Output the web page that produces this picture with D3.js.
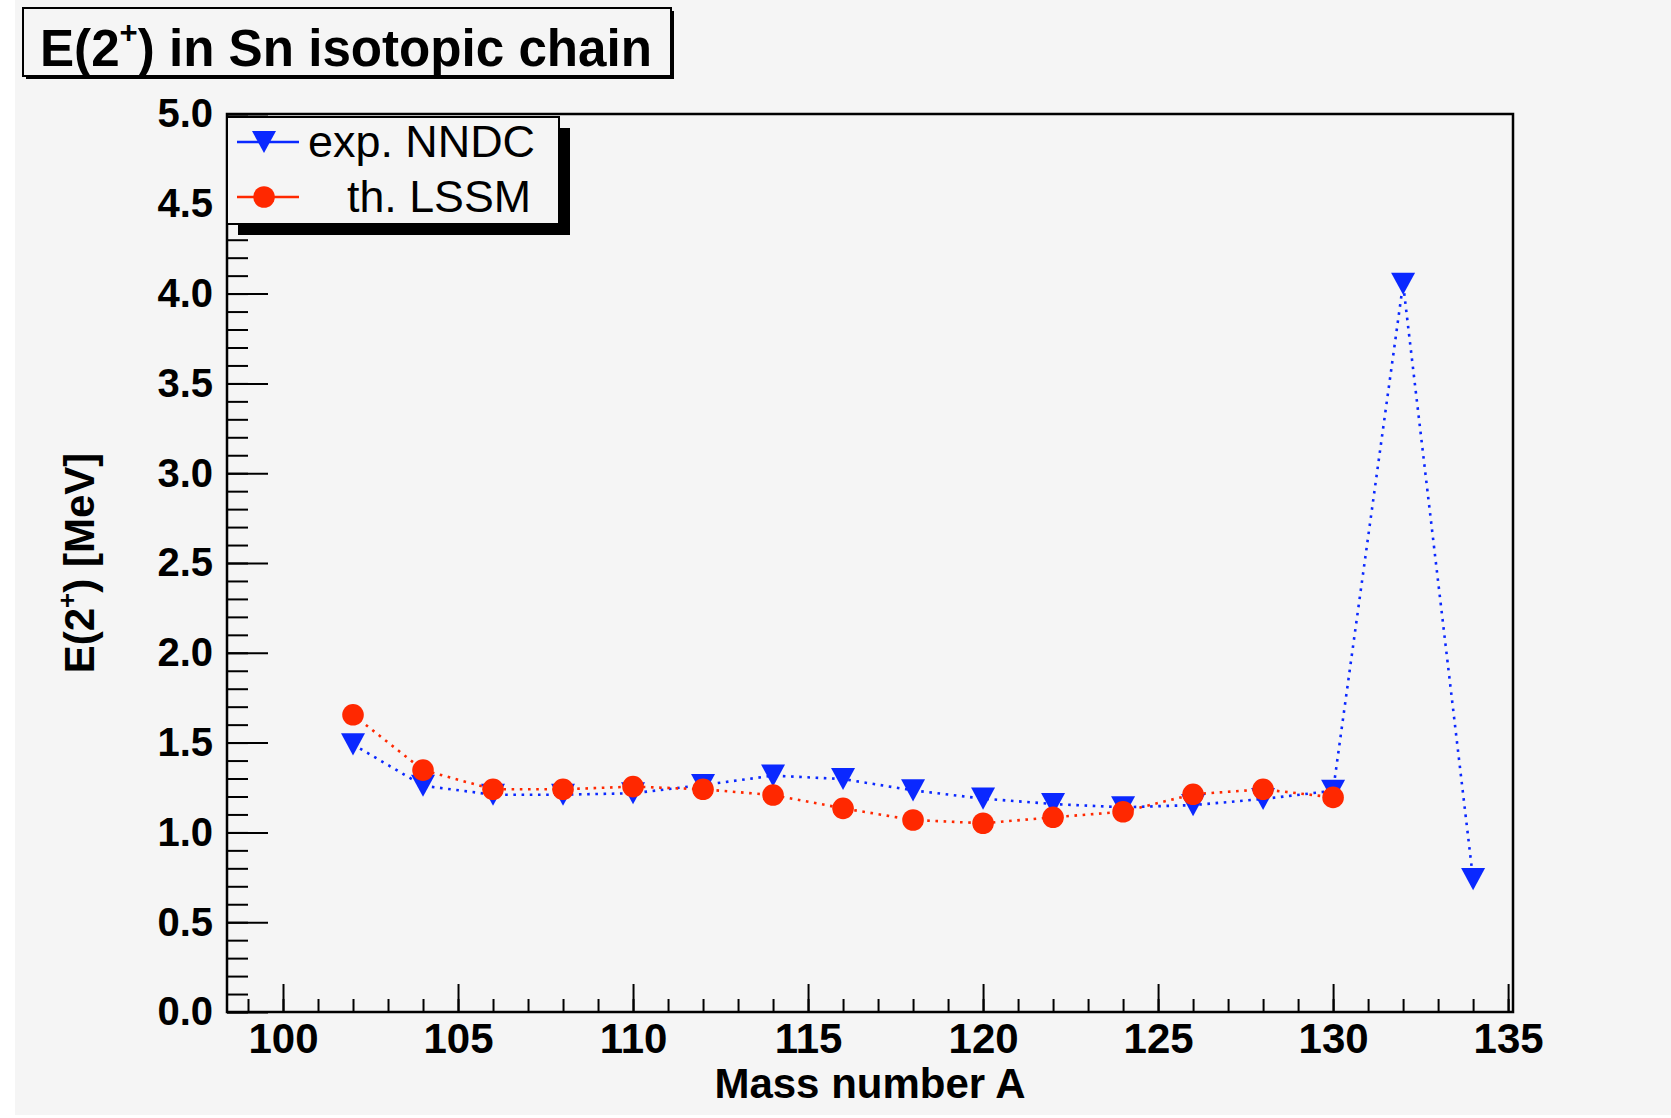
<!DOCTYPE html>
<html>
<head>
<meta charset="utf-8">
<script src="https://cdn.jsdelivr.net/npm/d3@7"></script>
<style>
  html, body { margin: 0; padding: 0; background: #ffffff; }
  svg { display: block; font-family: "Liberation Sans", Arial, Helvetica, sans-serif; }
</style>
</head>
<body>
<svg id="chart" width="1671" height="1118"></svg>
<script>
// ---- data ----
const massExp = [102, 104, 106, 108, 110, 112, 114, 116, 118, 120, 122, 124, 126, 128, 130, 132, 134];
const expNNDC = [1.49, 1.26, 1.21, 1.21, 1.218, 1.264, 1.316, 1.297, 1.234, 1.188, 1.158, 1.14, 1.152, 1.186, 1.232, 4.055, 0.74];
const massTh = [102, 104, 106, 108, 110, 112, 114, 116, 118, 120, 122, 124, 126, 128, 130];
const thLSSM = [1.655, 1.347, 1.24, 1.24, 1.255, 1.24, 1.208, 1.134, 1.069, 1.051, 1.084, 1.115, 1.212, 1.24, 1.195];
const xMajorTicks = [100, 105, 110, 115, 120, 125, 130, 135];
const yMajorTicks = [0, 0.5, 1, 1.5, 2, 2.5, 3, 3.5, 4, 4.5, 5];
const legendLabels = ["exp. NNDC", "th. LSSM"];
const xDomain = [98.4, 135.14];
const yDomain = [0, 5];

// ---- layout ----
const W = 1671, H = 1118;
const plot = { left: 227, right: 1513, top: 114, bottom: 1012 };
const BG = "#f5f5f5";
const BLUE = "#0a28ff", RED = "#ff2800";

const svg = d3.select("#chart");
svg.append("rect").attr("x", 0).attr("y", 0).attr("width", W).attr("height", H).attr("fill", "#ffffff");
svg.append("rect").attr("x", 15).attr("y", 0).attr("width", W - 15).attr("height", 1115).attr("fill", BG);

const x = d3.scaleLinear().domain(xDomain).range([plot.left, plot.right]);
const y = d3.scaleLinear().domain(yDomain).range([plot.bottom, plot.top]);

// minor ticks
const xMinor = d3.range(99, 136, 1);
const yMinor = d3.range(0, 51, 1).map(d => d / 10);

const gxMinor = svg.append("g").attr("transform", `translate(0,${plot.bottom})`)
  .call(d3.axisBottom(x).tickValues(xMinor).tickSize(-13).tickFormat(""));
const gyMinor = svg.append("g").attr("transform", `translate(${plot.left},0)`)
  .call(d3.axisLeft(y).tickValues(yMinor).tickSize(-21).tickFormat(""));

const gx = svg.append("g").attr("transform", `translate(0,${plot.bottom})`)
  .call(d3.axisBottom(x).tickValues(xMajorTicks).tickSize(-28).tickPadding(11).tickFormat(d3.format("d")));
const gy = svg.append("g").attr("transform", `translate(${plot.left},0)`)
  .call(d3.axisLeft(y).tickValues(yMajorTicks).tickSize(-41).tickPadding(14).tickFormat(d3.format(".1f")));

[gxMinor, gyMinor, gx, gy].forEach(g => {
  g.select(".domain").remove();
  g.selectAll(".tick line").attr("stroke", "#000").attr("stroke-width", 2);
});
gx.selectAll(".tick text").attr("fill", "#000").attr("font-size", 42).attr("font-weight", "bold")
  .attr("font-family", "Liberation Sans, Arial, sans-serif");
gy.selectAll(".tick text").attr("fill", "#000").attr("font-size", 40).attr("font-weight", "bold")
  .attr("font-family", "Liberation Sans, Arial, sans-serif");

// frame
svg.append("rect")
  .attr("x", plot.left).attr("y", plot.top)
  .attr("width", plot.right - plot.left).attr("height", plot.bottom - plot.top)
  .attr("fill", "none").attr("stroke", "#000").attr("stroke-width", 2.5);

// series
const lineGen = d3.line().x(d => x(d[0])).y(d => y(d[1]));
const expPts = massExp.map((m, i) => [m, expNNDC[i]]);
const thPts = massTh.map((m, i) => [m, thLSSM[i]]);

const triDown = {
  draw(ctx, size) {
    const w = Math.sqrt(size);
    const h = w * 0.92;
    ctx.moveTo(-w / 2, -h / 2);
    ctx.lineTo(w / 2, -h / 2);
    ctx.lineTo(0, h / 2);
    ctx.closePath();
  }
};
const triSym = d3.symbol().type(triDown).size(24 * 24);
const circSym = d3.symbol().type(d3.symbolCircle).size(Math.PI * 10.8 * 10.8);

svg.append("path").datum(expPts).attr("d", lineGen)
  .attr("fill", "none").attr("stroke", BLUE).attr("stroke-width", 2.6).attr("stroke-dasharray", "2.6 5.6");
svg.append("path").datum(thPts).attr("d", lineGen)
  .attr("fill", "none").attr("stroke", RED).attr("stroke-width", 2.6).attr("stroke-dasharray", "2.6 5.6");

svg.append("g").selectAll("path").data(expPts).join("path")
  .attr("d", triSym).attr("fill", BLUE)
  .attr("transform", d => `translate(${x(d[0])},${y(d[1])})`);
svg.append("g").selectAll("path").data(thPts).join("path")
  .attr("d", circSym).attr("fill", RED)
  .attr("transform", d => `translate(${x(d[0])},${y(d[1])})`);

// axis titles
svg.append("text")
  .attr("x", (plot.left + plot.right) / 2).attr("y", 1098)
  .attr("text-anchor", "middle").attr("font-size", 42).attr("font-weight", "bold")
  .text("Mass number A");

const yt = svg.append("text")
  .attr("transform", `translate(94,${(plot.top + plot.bottom) / 2}) rotate(-90)`)
  .attr("text-anchor", "middle").attr("font-size", 42).attr("font-weight", "bold");
yt.append("tspan").text("E(2");
yt.append("tspan").attr("dy", -18).attr("font-size", 26).text("+");
yt.append("tspan").attr("dy", 18).text(") [MeV]");

// title box
svg.append("rect").attr("x", 26).attr("y", 11).attr("width", 648).attr("height", 68).attr("fill", "#000");
svg.append("rect").attr("x", 23).attr("y", 8).attr("width", 648).attr("height", 68)
  .attr("fill", BG).attr("stroke", "#000").attr("stroke-width", 2);
const tt = svg.append("text").attr("x", 40).attr("y", 66).attr("font-size", 51).attr("font-weight", "bold")
  .attr("textLength", 612).attr("lengthAdjust", "spacingAndGlyphs");
tt.append("tspan").text("E(2");
tt.append("tspan").attr("dy", -23).attr("font-size", 31).text("+");
tt.append("tspan").attr("dy", 23).text(") in Sn isotopic chain");

// legend
const leg = { x: 227, y: 117, w: 332, h: 107 };
svg.append("rect").attr("x", leg.x + 11).attr("y", leg.y + 11).attr("width", leg.w).attr("height", leg.h).attr("fill", "#000");
svg.append("rect").attr("x", leg.x).attr("y", leg.y).attr("width", leg.w).attr("height", leg.h)
  .attr("fill", BG).attr("stroke", "#000").attr("stroke-width", 2);
const rows = [
  { label: legendLabels[0], color: BLUE, sym: triSym, cy: 142, tx: 308, tl: 227 },
  { label: legendLabels[1], color: RED, sym: circSym, cy: 197, tx: 347, tl: 184 }
];
rows.forEach(r => {
  svg.append("line").attr("x1", 237).attr("x2", 299).attr("y1", r.cy).attr("y2", r.cy)
    .attr("stroke", r.color).attr("stroke-width", 2.5);
  svg.append("path").attr("d", r.sym).attr("fill", r.color).attr("transform", `translate(264,${r.cy})`);
  svg.append("text").attr("x", r.tx).attr("y", r.cy + 15).attr("font-size", 44)
    .attr("textLength", r.tl).attr("lengthAdjust", "spacingAndGlyphs")
    .attr("fill", "#000").text(r.label);
});
</script>
</body>
</html>
